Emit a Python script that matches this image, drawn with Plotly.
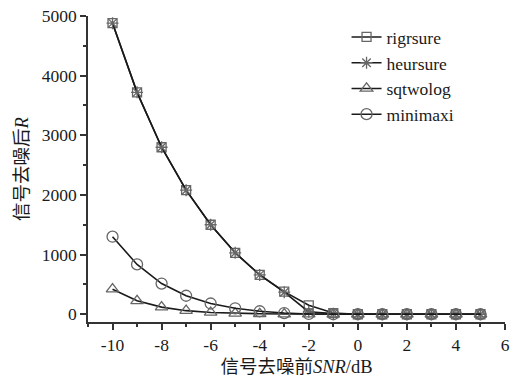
import plotly.graph_objects as go

snr = [-10, -9, -8, -7, -6, -5, -4, -3, -2, -1, 0, 1, 2, 3, 4, 5]
rigrsure = [4880, 3720, 2800, 2080, 1500, 1030, 660, 380, 150, 20, 0, 0, 0, 0, 0, 0]
heursure = [4880, 3720, 2800, 2080, 1500, 1030, 660, 370, 40, 10, 0, 0, 0, 0, 0, 0]
sqtwolog = [420, 225, 120, 60, 30, 15, 8, 3, 1, 0, 0, 0, 0, 0, 0, 0]
minimaxi = [1300, 835, 515, 310, 180, 100, 50, 20, 5, 0, 0, 0, 0, 0, 0, 0]

x_tickvals = [-10, -8, -6, -4, -2, 0, 2, 4, 6]
x_ticktext = ["-10", "-8", "-6", "-4", "-2", "0", "2", "4", "6"]
y_tickvals = [0, 1000, 2000, 3000, 4000, 5000]

names = ["rigrsure", "heursure", "sqtwolog", "minimaxi"]
series = [rigrsure, heursure, sqtwolog, minimaxi]
symbols = ["square-open", "asterisk-open", "triangle-up-open", "circle-open"]
sizes = [9, 10, 11, 11]

serif = "Liberation Serif, Noto Sans CJK SC"

fig = go.Figure()
for n, s, sym, sz in zip(names, series, symbols, sizes):
    fig.add_trace(go.Scatter(
        x=snr, y=s, name=n, mode="lines+markers",
        line=dict(color="#1a1a1a", width=1.6),
        marker=dict(symbol=sym, size=sz, color="#666666",
                    line=dict(color="#666666", width=1.3)),
    ))

axis_common = dict(
    showline=True, linecolor="#333333", linewidth=1.5,
    ticks="outside", ticklen=6, tickwidth=1.5, tickcolor="#333333",
    showgrid=False, zeroline=False, mirror=False, automargin=False,
    tickfont=dict(family=serif, size=17.5, color="#1a1a1a"),
)

fig.update_layout(
    width=523, height=379,
    margin=dict(l=88, r=18, t=16, b=57),
    paper_bgcolor="white", plot_bgcolor="white",
    font=dict(family=serif, color="#1a1a1a"),
    showlegend=True,
    legend=dict(x=0.62, y=0.99, xanchor="left", yanchor="top",
                font=dict(family=serif, size=17.5, color="#1a1a1a"),
                bgcolor="rgba(0,0,0,0)", itemwidth=30, tracegroupgap=0),
    xaxis=dict(axis_common, range=[-11, 6], tickmode="array",
               tickvals=x_tickvals, ticktext=x_ticktext,
               minor=dict(ticks="outside", ticklen=3, tickcolor="#333333", dtick=1, tick0=0),
               title=dict(text="信号去噪前<i>SNR</i>/dB", font=dict(family=serif, size=18.5), standoff=6)),
    yaxis=dict(axis_common, range=[-130, 5000], tickmode="array",
               tickvals=y_tickvals,
               minor=dict(ticks="outside", ticklen=3, tickcolor="#333333", dtick=500, tick0=0),
               title=dict(text="信号去噪后<i>R</i>", font=dict(family=serif, size=18.5), standoff=8)),
)

fig.write_html("out.html", config={"displayModeBar": False},
               post_script="document.body.style.margin='0';")
